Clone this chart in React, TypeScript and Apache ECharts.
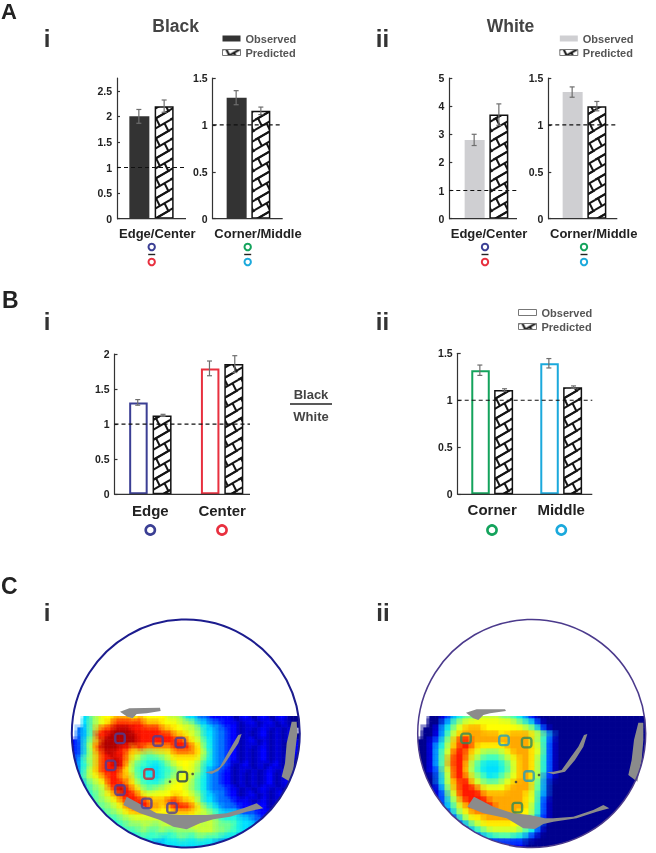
import React, { useEffect, useRef } from "react";
import * as echarts from "echarts";

const FONT = '"Liberation Sans", Arial, sans-serif';
const INK = "#333333";
const BLUE = "#3b3f94";
const RED = "#e8303f";
const GREEN = "#14a35c";
const CYAN = "#1ba9dc";
const DARK_BAR = "#333333";
const LIGHT_BAR = "#cfcfd2";

// ---- panel A i
const catAi1 = ["Edge/Center"];
const obsAi1 = [2.0];
const obsErrAi1 = [0.135];
const predAi1 = [2.2];
const predErrAi1 = [0.12];
const ticksAi1 = [0, 0.5, 1, 1.5, 2, 2.5];

const catAi2 = ["Corner/Middle"];
const obsAi2 = [1.29];
const obsErrAi2 = [0.075];
const predAi2 = [1.15];
const predErrAi2 = [0.04];
const ticksRatio = [0, 0.5, 1, 1.5];

// ---- panel A ii
const catAii1 = ["Edge/Center"];
const obsAii1 = [2.8];
const obsErrAii1 = [0.2];
const predAii1 = [3.7];
const predErrAii1 = [0.38];
const ticksAii1 = [0, 1, 2, 3, 4, 5];

const catAii2 = ["Corner/Middle"];
const obsAii2 = [1.35];
const obsErrAii2 = [0.055];
const predAii2 = [1.2];
const predErrAii2 = [0.05];

// ---- panel B
const catBi = ["Edge", "Center"];
const obsBi = [1.31, 1.795];
const obsErrBi = [0.04, 0.105];
const predBi = [1.125, 1.856];
const predErrBi = [0.015, 0.12];
const ticksBi = [0, 0.5, 1, 1.5, 2];

const catBii = ["Corner", "Middle"];
const obsBii = [1.32, 1.394];
const obsErrBii = [0.055, 0.05];
const predBii = [1.11, 1.14];
const predErrBii = [0.013, 0.013];

// ---- panel C, levels 0-9 and a on the jet scale, one row per line
const heatI = [
  "  3567788878777766533221111011011011000",
  "  3567899999888777665332211101101101000",
  " 235899aaa999998877665332211010110101",
  " 23599aaaaa999999887653322110101101010",
  "12468aaaaaa99999999876432211011010101100",
  "12479aaa99898888899987432211010110100100",
  "124689a99876556678888753221101011010110",
  "1356899a98654445677776432211010110101010",
  "1346899a975443345677653322101101011010",
  "1357899987543334456765322110101011010100",
  "2356789988644334567754322110101011010100",
  " 2456799987544456776543221101010110110",
  " 2355689a98755667776543222110101101010",
  " 23456789998777778776533221101101011010",
  "  245567899998889988753322211101101010",
  "  134556789998878999875432221111101100",
  "   23455677777777777766543332221111100",
  "   2234455666666666675665444332211110",
  "    22344555655666667666555433322111",
  "     223444554554555566655443322111",
  "       22334444344544544433322111",
  "         2223323333333332221111",
];
const heatII = [
  "  0012345566665543210000000000000000000",
  "  0023567777777765431000000000000000000",
  " 00134678887777777653100000000000000000",
  " 00135788888887888876420000000000000000",
  "001246899888888888865310000000000000000",
  "001347899877777888876310000000000000000",
  "001357998765556788876310000000000000000",
  "001358998654445678875310000000000000000",
  "001358997543334578875310000000000000000",
  "001257997543334578875310000000000000000",
  "000247998654345678875210000000000000000",
  " 00247899765556788864200000000000000000",
  " 00136899987777888864200000000000000000",
  " 00125799998888888763200000000000000000",
  "  0124689999888888763100000000000000000",
  "  0023578999988888753100000000000000000",
  "   012467888888887753100000000000000000",
  "    01246778888877642100000000000000000",
  "     0123567777776532000000000000000000",
  "      012345666665431000000000000000000",
  "        0123344433210000000000000000000",
  "          00111111000000000000000000000",
];
const jetScale = ["#00008f", "#0000ff", "#0070ff", "#00e0ff", "#30ffd0", "#80ff80", "#c8ff38", "#ffff00", "#ffa800", "#ff1800", "#b00000"];

// map shapes and markers, read in map units
const grayI = [
  [[240,335],[268,325],[360,323],[362,333],[320,340],[290,342],[278,355],[262,350]],
  [[755,365],[770,365],[772,400],[765,460],[760,510],[750,545],[725,530],[735,490],[740,430]],
  [[605,402],[595,430],[575,460],[555,490],[535,512],[515,522],[495,517],[520,512],[540,500],[560,465],[580,430],[595,405]],
  [[260,590],[300,612],[350,640],[420,645],[500,645],[560,640],[610,625],[650,610],[670,625],[620,635],[570,650],[520,658],[480,670],[440,688],[400,680],[360,660],[300,640],[250,615]],
];
const grayII = [
  [[258,338],[290,328],[375,328],[378,333],[330,340],[310,345],[295,360],[280,355]],
  [[775,368],[790,368],[790,420],[785,480],[772,545],[745,525],[755,480],[762,420]],
  [[622,402],[610,440],[585,480],[555,515],[520,523],[500,517],[520,515],[545,510],[570,475],[595,440],[612,405]],
  [[282,590],[340,620],[400,640],[450,645],[495,655],[520,655],[580,650],[640,630],[670,615],[688,625],[650,635],[590,655],[520,665],[490,672],[465,687],[430,685],[380,655],[310,640],[262,620]],
];
const edgeSitesI = [[240,415],[354,423],[421,428],[212,496],[240,570],[320,610],[396,624]];
const centerSitesI = [[327,522]];
const otherSitesI = [[427,530]];
const dotsI = [[390,545],[458,522]];
const cornerSitesII = [[258,415],[440,428],[412,623]];
const middleSitesII = [[372,421],[447,528]];
const dotsII = [[408,546],[477,525]];

function brickPattern(): HTMLCanvasElement {
  const W = 17, R = 10, H = 2 * R, slope = R / W;
  const c = document.createElement("canvas");
  c.width = W; c.height = H;
  const g = c.getContext("2d")!;
  g.fillStyle = "#fff"; g.fillRect(0, 0, W, H);
  g.strokeStyle = "#151515"; g.lineWidth = 2;
  for (let ox = -1; ox <= 1; ox++) for (let oy = -1; oy <= 1; oy++) {
    const dx = ox * W, dy = oy * H;
    for (let k = 0; k < 3; k++) {
      g.beginPath();
      g.moveTo(dx, dy + k * R);
      g.lineTo(dx + W, dy + k * R - W * slope);
      g.stroke();
    }
    [[3, 0], [11.5, R]].forEach(([a, k]) => {
      const y0 = dy + k - slope * a, x0 = dx + a;
      const t = R / (1 + 0.5 * slope);
      g.beginPath();
      g.moveTo(x0, y0);
      g.lineTo(x0 + 0.5 * t, y0 + t);
      g.stroke();
    });
  }
  return c;
}

export default function App() {
  const ref = useRef<HTMLDivElement>(null);
  useEffect(() => {
    const chart = echarts.init(ref.current!, undefined, { renderer: "svg" });
    const hatch = { image: brickPattern(), repeat: "repeat" } as any;

    const grid: any[] = [], xAxis: any[] = [], yAxis: any[] = [], series: any[] = [];
    const tickStyle = { color: INK, width: 1.2 };

    function barPanel(p: any) {
      const i = grid.length;
      const bw = p.barWidth ?? 20;
      grid.push({ left: p.left, width: p.right - p.left, top: p.top, height: p.bottom - p.top });
      xAxis.push({
        gridIndex: i, type: "category", data: p.cats,
        axisLine: { show: false }, axisTick: { show: false },
        axisLabel: {
          margin: p.margin, color: "#222", fontFamily: FONT, fontWeight: "bold", fontSize: p.labelSize,
          padding: [0, 0, 0, p.shift ?? 0], interval: 0, hideOverlap: false,
        },
      });
      yAxis.push({
        gridIndex: i, type: "value", min: 0, max: p.max,
        splitLine: { show: false },
        axisLine: { show: true, lineStyle: tickStyle },
        axisTick: { show: true, inside: true, length: 3, lineStyle: tickStyle, customValues: p.ticks },
        axisLabel: { color: "#222", fontFamily: FONT, fontWeight: "bold", fontSize: 10.5, margin: 5, customValues: p.ticks },
      });
      const axes = { xAxisIndex: i, yAxisIndex: i };
      const gap = `${((p.spacing / bw) - 1) * 100}%`;
      series.push({
        ...axes, type: "bar", name: "Observed", barWidth: p.outline ? bw - 1.5 : bw, barGap: gap,
        data: p.obs.map((v: number, k: number) => ({
          value: v,
          itemStyle: p.outline
            ? { color: "#fff", borderColor: p.outline[k], borderWidth: 2 }
            : { color: p.fill },
        })),
        z: 2,
      });
      series.push({
        ...axes, type: "bar", name: "Predicted", barWidth: bw - 1, barGap: gap,
        data: p.pred, itemStyle: { color: hatch, borderColor: "#111", borderWidth: 1.5 }, z: 2,
      });
      const errSeries = (vals: number[], errs: number[], side: number) => ({
        ...axes, type: "custom", name: "err", z: 5, silent: true,
        data: vals.map((v, k) => [k, v - errs[k], v + errs[k]]),
        renderItem: (_: any, api: any) => {
          const lo = api.coord([api.value(0), api.value(1)]);
          const hi = api.coord([api.value(0), api.value(2)]);
          const x = lo[0] + side * p.spacing / 2;
          const s = { stroke: "#6e6e6e", lineWidth: 1.2 };
          return {
            type: "group",
            children: [
              { type: "line", shape: { x1: x, y1: lo[1], x2: x, y2: hi[1] }, style: s },
              { type: "line", shape: { x1: x - 2.5, y1: lo[1], x2: x + 2.5, y2: lo[1] }, style: s },
              { type: "line", shape: { x1: x - 2.5, y1: hi[1], x2: x + 2.5, y2: hi[1] }, style: s },
            ],
          };
        },
      });
      series.push(errSeries(p.obs, p.obsErr, -1), errSeries(p.pred, p.predErr, 1));
      const rule = (value: number, stroke: any) => ({
        ...axes, type: "custom", name: "rule", z: 6, silent: true,
        data: [[0, value]],
        renderItem: (_: any, api: any) => {
          const y = api.coord([0, api.value(1)])[1];
          return { type: "line", shape: { x1: p.left, y1: y, x2: p.axisRight, y2: y }, style: stroke };
        },
      });
      series.push(rule(1, { stroke: "#111", lineWidth: 1.1, lineDash: [4, 3] }));
      series.push(rule(0, { stroke: INK, lineWidth: 1.2 }));
    }

    barPanel({ left: 117, right: 186, axisRight: 186, top: 78, bottom: 218.7, max: 2.75, ticks: ticksAi1, cats: catAi1,
      obs: obsAi1, obsErr: obsErrAi1, pred: predAi1, predErr: predErrAi1, fill: DARK_BAR, spacing: 25.3, margin: 8, labelSize: 13, shift: 11.6 });
    barPanel({ left: 212.7, right: 284.3, axisRight: 282.7, top: 78, bottom: 218.7, max: 1.5, ticks: ticksRatio, cats: catAi2,
      obs: obsAi2, obsErr: obsErrAi2, pred: predAi2, predErr: predErrAi2, fill: DARK_BAR, spacing: 24.7, margin: 8, labelSize: 13, shift: 19 });
    barPanel({ left: 449.3, right: 523.7, axisRight: 517, top: 78, bottom: 218.7, max: 5, ticks: ticksAii1, cats: catAii1,
      obs: obsAii1, obsErr: obsErrAii1, pred: predAii1, predErr: predErrAii1, fill: LIGHT_BAR, spacing: 24.7, margin: 8, labelSize: 13, shift: 5 });
    barPanel({ left: 548.3, right: 620.7, axisRight: 617.3, top: 78, bottom: 218.7, max: 1.5, ticks: ticksRatio, cats: catAii2,
      obs: obsAii2, obsErr: obsErrAii2, pred: predAii2, predErr: predErrAii2, fill: LIGHT_BAR, spacing: 24.7, margin: 8, labelSize: 13, shift: 18.4 });
    barPanel({ left: 114.5, right: 258, axisRight: 250, top: 354, bottom: 494.3, max: 2, ticks: ticksBi, cats: catBi,
      obs: obsBi, obsErr: obsErrBi, pred: predBi, predErr: predErrBi, outline: [BLUE, RED], spacing: 25.3, margin: 9, labelSize: 15 });
    barPanel({ left: 457.7, right: 595.7, axisRight: 592.3, top: 353.3, bottom: 494.3, max: 1.5, ticks: ticksRatio, cats: catBii,
      obs: obsBii, obsErr: obsErrBii, pred: predBii, predErr: predErrBii, outline: [GREEN, CYAN], spacing: 24.7, margin: 8, labelSize: 15 });

    const heatSeriesIdx: number[] = [];
    function mapPanel(p: any) {
      const g = grid.length;
      grid.push({ left: p.left, width: 228, top: 704, height: 144 });
      const catIdx = xAxis.length;
      xAxis.push({ gridIndex: g, type: "category", show: false, data: Array.from({ length: 38 }, (_, k) => String(k)) });
      yAxis.push({ gridIndex: g, type: "category", show: false, inverse: true, data: Array.from({ length: 24 }, (_, k) => String(k)) });
      const valIdx = xAxis.length;
      xAxis.push({ gridIndex: g, type: "value", show: false, min: p.xMin, max: p.xMin + 684 });
      yAxis.push({ gridIndex: g, type: "value", show: false, min: 312, max: 744, inverse: true });
      const cells: number[][] = [];
      p.rows.forEach((row: string, r: number) => {
        row.slice(0, 38).split("").forEach((ch: string, c: number) => {
          if (ch !== " ") cells.push([c, r + 2, ch === "a" ? 10 : Number(ch)]);
        });
      });
      const cellLayer = (grow: number, opacity: number, z: number) => {
        heatSeriesIdx.push(series.length);
        series.push({
          type: "custom", name: "map", xAxisIndex: catIdx, yAxisIndex: catIdx, data: cells, z, silent: true,
          encode: { x: 0, y: 1 },
          renderItem: (_: any, api: any) => {
            const pt = api.coord([api.value(0), api.value(1)]);
            const s = api.size([1, 1]);
            const top = api.value(1) === 2 ? pt[1] - s[1] / 2 : pt[1] - s[1] / 2 - grow - 0.6;
            const bottom = pt[1] + s[1] / 2 + grow - 0.6;
            return {
              type: "rect",
              shape: { x: pt[0] - s[0] / 2 - grow - 0.6, y: top, width: s[0] + 2 * grow + 0.3, height: bottom - top + 0.3 },
              style: { fill: api.visual("color"), opacity },
            };
          },
        });
      };
      cellLayer(0, 1, 1);
      cellLayer(3, p.soft, 1.5);
      const val = { xAxisIndex: valIdx, yAxisIndex: valIdx };
      series.push({
        ...val, type: "custom", name: "vessels", z: 4, silent: true,
        data: p.gray.map((poly: number[][], k: number) => [poly[0][0], poly[0][1], k]),
        renderItem: (_: any, api: any) => ({
          type: "polygon",
          shape: { points: p.gray[api.value(2)].map((pt: number[]) => api.coord(pt)) },
          style: { fill: "#8b8b8b" },
        }),
      });
      p.sites.forEach((s: any) => series.push({
        ...val, type: "scatter", name: "sites", z: 5, silent: true, data: s.data,
        symbol: "roundRect", symbolSize: 9.5,
        itemStyle: { color: "transparent", borderColor: s.color, borderWidth: 2.4 },
      }));
      series.push({
        ...val, type: "scatter", name: "dots", z: 5, silent: true, data: p.dots,
        symbol: "circle", symbolSize: 2.6, itemStyle: { color: "#334" },
      });
    }
    mapPanel({ left: 72, xMin: 96, rows: heatI, gray: grayI, dots: dotsI, soft: 0.3, sites: [
      { data: edgeSitesI, color: "#4a3f9a" }, { data: centerSitesI, color: "#d42030" }, { data: otherSitesI, color: "#1f3a5a" } ] });
    mapPanel({ left: 418, xMin: 114, rows: heatII, gray: grayII, dots: dotsII, soft: 0.45, sites: [
      { data: cornerSitesII, color: "#2e8b57" }, { data: middleSitesII, color: "#1f9ec0" } ] });

    const legend = (left: number, top: number, obsStyle: any) => ({
      left, top, orient: "vertical", selectedMode: false, itemWidth: 18, itemHeight: 6, itemGap: 3, padding: 0,
      textStyle: { fontFamily: FONT, fontWeight: "bold", fontSize: 11, color: "#555" },
      data: [
        { name: "Observed", icon: "rect", itemStyle: obsStyle },
        { name: "Predicted", icon: "rect", itemStyle: { color: hatch, borderColor: "#777", borderWidth: 1 } },
      ],
    });

    const txt = (text: string, x: number, y: number, size: number, fill = "#333", align = "center") => ({
      type: "text", x, y, z: 10, silent: true,
      style: { text, fill, font: `bold ${size}px ${FONT}`, textAlign: align, textVerticalAlign: "middle" },
    });
    const ring = (cx: number, cy: number, r: number, color: string, lw: number) => ({
      type: "circle", z: 10, silent: true, shape: { cx, cy, r }, style: { fill: "none", stroke: color, lineWidth: lw },
    });
    const bar = (x1: number, x2: number, y: number, lw = 1.4) => ({
      type: "line", z: 10, silent: true, shape: { x1, y1: y, x2, y2: y }, style: { stroke: "#222", lineWidth: lw },
    });
    const pair = (cx: number, top: string, bottom: string) => [
      ring(cx, 247, 3.2, top, 2), bar(cx - 3.5, cx + 3.5, 254.5), ring(cx, 262, 3.2, bottom, 2),
    ];

    const graphic: any[] = [
      { type: "ring", z: 3, silent: true, shape: { cx: 185.8, cy: 733.5, r: 168, r0: 114 }, style: { fill: "#fff" } },
      { type: "ring", z: 3, silent: true, shape: { cx: 531.7, cy: 733.5, r: 168, r0: 114 }, style: { fill: "#fff" } },
      txt("A", 1, 11.5, 22, "#222", "left"), txt("B", 2, 300, 23, "#222", "left"), txt("C", 1, 586, 23, "#222", "left"),
      txt("i", 47, 38, 24), txt("ii", 382.5, 38, 24),
      txt("i", 47, 321, 24), txt("ii", 382.5, 321, 24),
      txt("i", 47, 612, 24), txt("ii", 383, 612, 24),
      txt("Black", 175.7, 26, 17.5, "#444"), txt("White", 510.5, 26, 17.5, "#444"),
      txt("Black", 311, 394, 13, "#444"), bar(290, 332, 404), txt("White", 311, 416, 13, "#444"),
      ...pair(151.7, BLUE, RED), ...pair(247.7, GREEN, CYAN),
      ...pair(485, BLUE, RED), ...pair(584, GREEN, CYAN),
      ring(150.3, 530, 4.6, BLUE, 2.6), ring(222, 530, 4.6, RED, 2.6),
      ring(492, 530, 4.6, GREEN, 2.6), ring(561.3, 530, 4.6, CYAN, 2.6),
      ring(185.8, 733.5, 114, "#1c1c8e", 2),
      ring(531.7, 733.5, 114, "#4b3a8c", 1.5),
    ];

    chart.setOption({
      animation: false,
      backgroundColor: "#fff",
      grid, xAxis, yAxis, series, graphic,
      legend: [
        legend(222, 33, { color: DARK_BAR }),
        legend(559.3, 33, { color: LIGHT_BAR }),
        legend(518, 307, { color: "#fff", borderColor: "#777", borderWidth: 1 }),
      ],
      visualMap: [{ show: false, seriesIndex: heatSeriesIdx, min: 0, max: 10, dimension: 2, inRange: { color: jetScale } }],
    });
    return () => chart.dispose();
  }, []);
  return <div ref={ref} style={{ position: "absolute", left: 0, top: 0, width: 656, height: 853, filter: "blur(0.45px)" }} />;
}
